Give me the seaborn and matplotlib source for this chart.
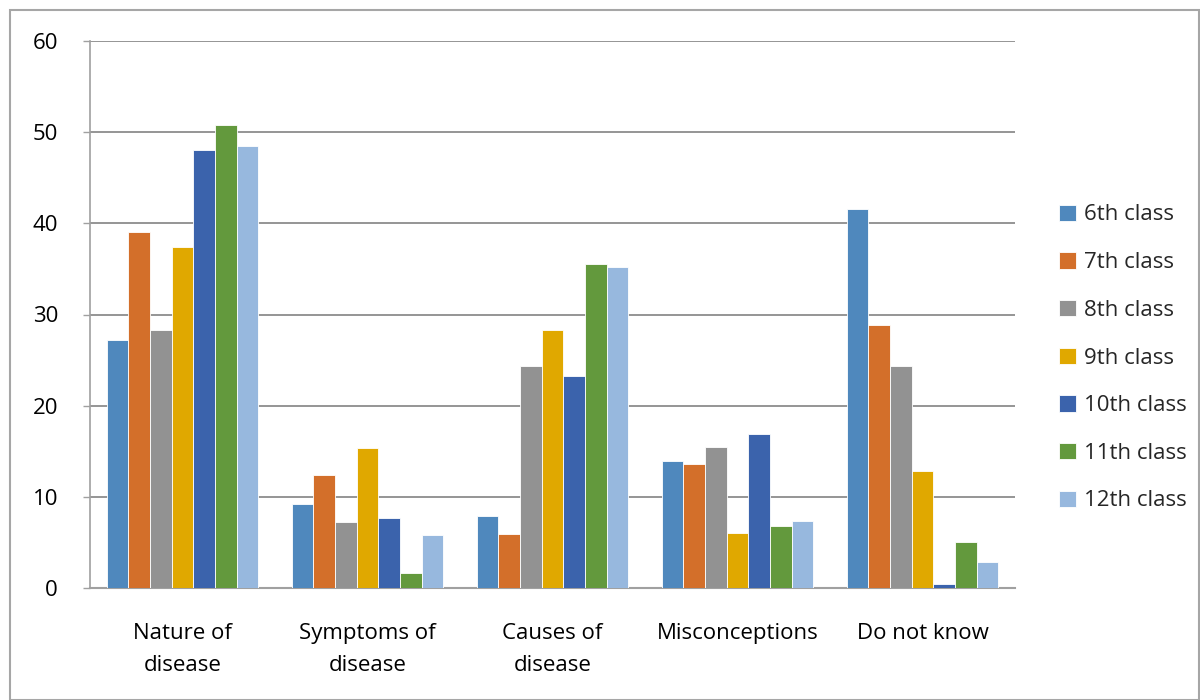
import matplotlib
matplotlib.use("Agg")
import matplotlib.pyplot as plt
import seaborn as sns
import pandas as pd
from matplotlib.patches import Rectangle

categories = ["Nature of\ndisease", "Symptoms of\ndisease", "Causes of\ndisease", "Misconceptions", "Do not know"]
classes = ["6th class", "7th class", "8th class", "9th class", "10th class", "11th class", "12th class"]

class6 = [27.2, 9.2, 7.9, 13.9, 41.6]
class7 = [39.0, 12.4, 5.9, 13.6, 28.9]
class8 = [28.3, 7.2, 24.4, 15.5, 24.4]
class9 = [37.4, 15.4, 28.3, 6.0, 12.8]
class10 = [48.0, 7.7, 23.3, 16.9, 0.4]
class11 = [50.8, 1.6, 35.5, 6.8, 5.1]
class12 = [48.5, 5.8, 35.2, 7.3, 2.9]

series = [class6, class7, class8, class9, class10, class11, class12]
colors = ["#4F88BD", "#D36F2A", "#929292", "#E0A800", "#3B63AC", "#63993D", "#97B8DE"]

rows = []
for cls, vals in zip(classes, series):
    for cat, v in zip(categories, vals):
        rows.append({"Category": cat, "Class": cls, "Value": v})
df = pd.DataFrame(rows)

sns.set_theme(style="white")
plt.rcParams["font.family"] = ["Open Sans", "DejaVu Sans"]

fig = plt.figure(figsize=(12, 7), dpi=100)
ax = fig.add_axes([90/1200, 1 - 588/700, (1015-90)/1200, (588-41)/700])

sns.barplot(data=df, x="Category", y="Value", hue="Class", hue_order=classes,
            order=categories, palette=colors, saturation=1, width=0.82, gap=0,
            edgecolor="white", linewidth=0.6, ax=ax, legend=True, zorder=3)

ax.set_ylim(0, 60)
ax.set_yticks(range(0, 61, 10))
ax.set_xlim(-0.5, len(categories) - 0.5)
ax.set_xlabel("")
ax.set_ylabel("")
ax.yaxis.grid(True, color="#8C8C8C", linewidth=1.3, zorder=0)
ax.set_axisbelow(True)
for s in ["top", "right"]:
    ax.spines[s].set_visible(False)
ax.spines["left"].set_color("#A0A0A0")
ax.spines["left"].set_linewidth(1.2)
ax.spines["bottom"].set_color("#A0A0A0")
ax.spines["bottom"].set_linewidth(1.5)
ax.tick_params(axis="y", length=5, width=1, color="#A0A0A0", labelsize=16, pad=18, left=True)
ax.tick_params(axis="x", length=0, labelsize=16, pad=25)
for lab in ax.get_yticklabels():
    lab.set_color("#000000")
for lab in ax.get_xticklabels():
    lab.set_color("#000000")
    lab.set_linespacing(1.7)

handles, labels = ax.get_legend_handles_labels()
ax.get_legend().remove()
fig.legend(handles, labels, loc="center left", bbox_to_anchor=(1050/1200, 1 - 358/700),
           frameon=False, fontsize=16, handlelength=0.75, handleheight=0.75,
           handletextpad=0.4, labelspacing=1.2, borderaxespad=0)

fig.patches.append(Rectangle((10/1200, 0), 1 - 11/1200, 1 - 10/700, transform=fig.transFigure,
                             fill=False, edgecolor="#A6A6A6", linewidth=1.5, zorder=0))

fig.savefig("out.png", dpi=100)
